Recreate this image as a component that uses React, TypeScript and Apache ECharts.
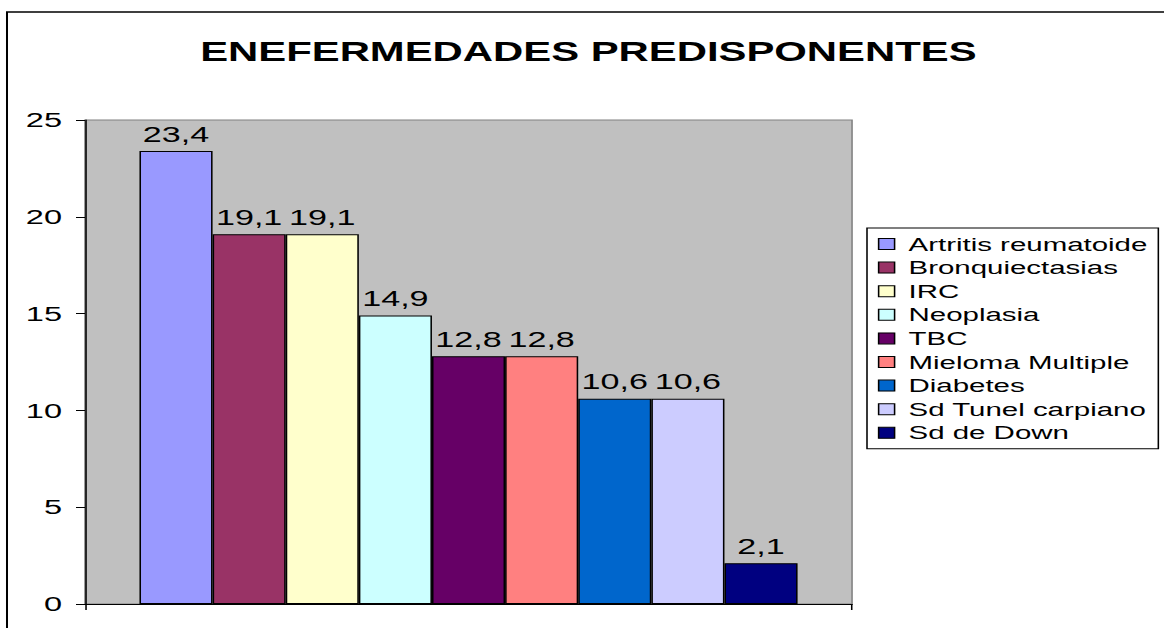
import React, { useEffect, useRef } from 'react';
import * as echarts from 'echarts';

const categories = [''];
const seriesNames = [
  'Artritis reumatoide',
  'Bronquiectasias',
  'IRC',
  'Neoplasia',
  'TBC',
  'Mieloma Multiple',
  'Diabetes',
  'Sd Tunel carpiano',
  'Sd de Down',
];
const seriesValues = [23.4, 19.1, 19.1, 14.9, 12.8, 12.8, 10.6, 10.6, 2.1];
const seriesColors = ['#9999FF', '#993366', '#FFFFCC', '#CCFFFF', '#660066', '#FF8080', '#0066CC', '#CCCCFF', '#000080'];
const yMin = 0;
const yMax = 25;
const yInterval = 5;
const titleText = 'ENEFERMEDADES PREDISPONENTES';

const STRETCH = 1.55;
const W = 1164 / STRETCH;
const H = 628;
const FONT = '"Liberation Sans", Arial, sans-serif';
const TITLE_SIZE = 27;

function measure(text: string, font: string): number {
  const c = document.createElement('canvas');
  const ctx = c.getContext('2d');
  if (!ctx) return text.length * 18;
  ctx.font = font;
  return ctx.measureText(text).width;
}

export default function App() {
  const ref = useRef<HTMLDivElement>(null);
  useEffect(() => {
    if (!ref.current) return;
    const chart = echarts.init(ref.current, null, { renderer: 'svg' });
    const sx = (x: number) => x / STRETCH;
    const titleW = measure(titleText, `bold ${TITLE_SIZE}px ${FONT}`);
    chart.setOption({
      animation: false,
      backgroundColor: '#FFFFFF',
      textStyle: { fontFamily: FONT },
      graphic: [
        {
          type: 'rect',
          z: -10,
          silent: true,
          shape: { x: sx(7), y: 12, width: W + 20, height: H + 20 },
          style: { fill: 'none', stroke: '#000', lineWidth: 1.3 },
        },
      ],
      title: {
        text: titleText,
        left: sx(588.5) - titleW / 2,
        top: 38,
        padding: 0,
        textStyle: { fontFamily: FONT, fontWeight: 'bold', fontSize: TITLE_SIZE, color: '#000' },
      },
      grid: {
        left: sx(85),
        right: W - sx(852),
        top: 120,
        bottom: H - 604,
        show: true,
        backgroundColor: '#C0C0C0',
        borderColor: '#808080',
        borderWidth: 1,
      },
      legend: {
        orient: 'vertical',
        left: sx(867),
        top: 228,
        padding: [6, 7, 6, 7],
        backgroundColor: '#FFFFFF',
        borderColor: '#000',
        borderWidth: 1,
        itemWidth: 10.3,
        itemHeight: 11,
        itemGap: 3.6,
        icon: 'rect',
        selectedMode: false,
        itemStyle: { borderColor: '#000', borderWidth: 1 },
        textStyle: { fontFamily: FONT, fontSize: 19, color: '#000', lineHeight: 20, padding: [0, 0, 0, 4] },
        data: seriesNames,
      },
      xAxis: {
        type: 'category',
        data: categories,
        boundaryGap: true,
        axisLine: { show: true, lineStyle: { color: '#000', width: 1 } },
        axisTick: { show: true, length: 6, lineStyle: { color: '#000' } },
        axisLabel: { show: false },
        splitLine: { show: false },
      },
      yAxis: {
        type: 'value',
        min: yMin,
        max: yMax,
        interval: yInterval,
        axisLine: { show: true, lineStyle: { color: '#000', width: 1 } },
        axisTick: { show: true, length: 5.8, lineStyle: { color: '#000' } },
        axisLabel: { margin: 14.8, fontFamily: FONT, fontSize: 21, color: '#000' },
        splitLine: { show: false },
      },
      series: seriesNames.map((name, i) => ({
        type: 'bar',
        name,
        data: [seriesValues[i]],
        barGap: '0%',
        barCategoryGap: '14.2%',
        itemStyle: { color: seriesColors[i], borderColor: '#000', borderWidth: 1 },
        label: {
          show: true,
          position: 'top',
          distance: 6,
          fontFamily: FONT,
          fontSize: 22,
          color: '#000',
          formatter: (p: any) => Number(p.value).toFixed(1).replace('.', ','),
        },
      })),
    });
    return () => chart.dispose();
  }, []);
  return (
    <div
      ref={ref}
      style={{
        position: 'fixed',
        left: 0,
        top: 0,
        width: W + 'px',
        height: H + 'px',
        overflow: 'hidden',
        transform: `scaleX(${STRETCH})`,
        transformOrigin: '0 0',
      }}
    />
  );
}
